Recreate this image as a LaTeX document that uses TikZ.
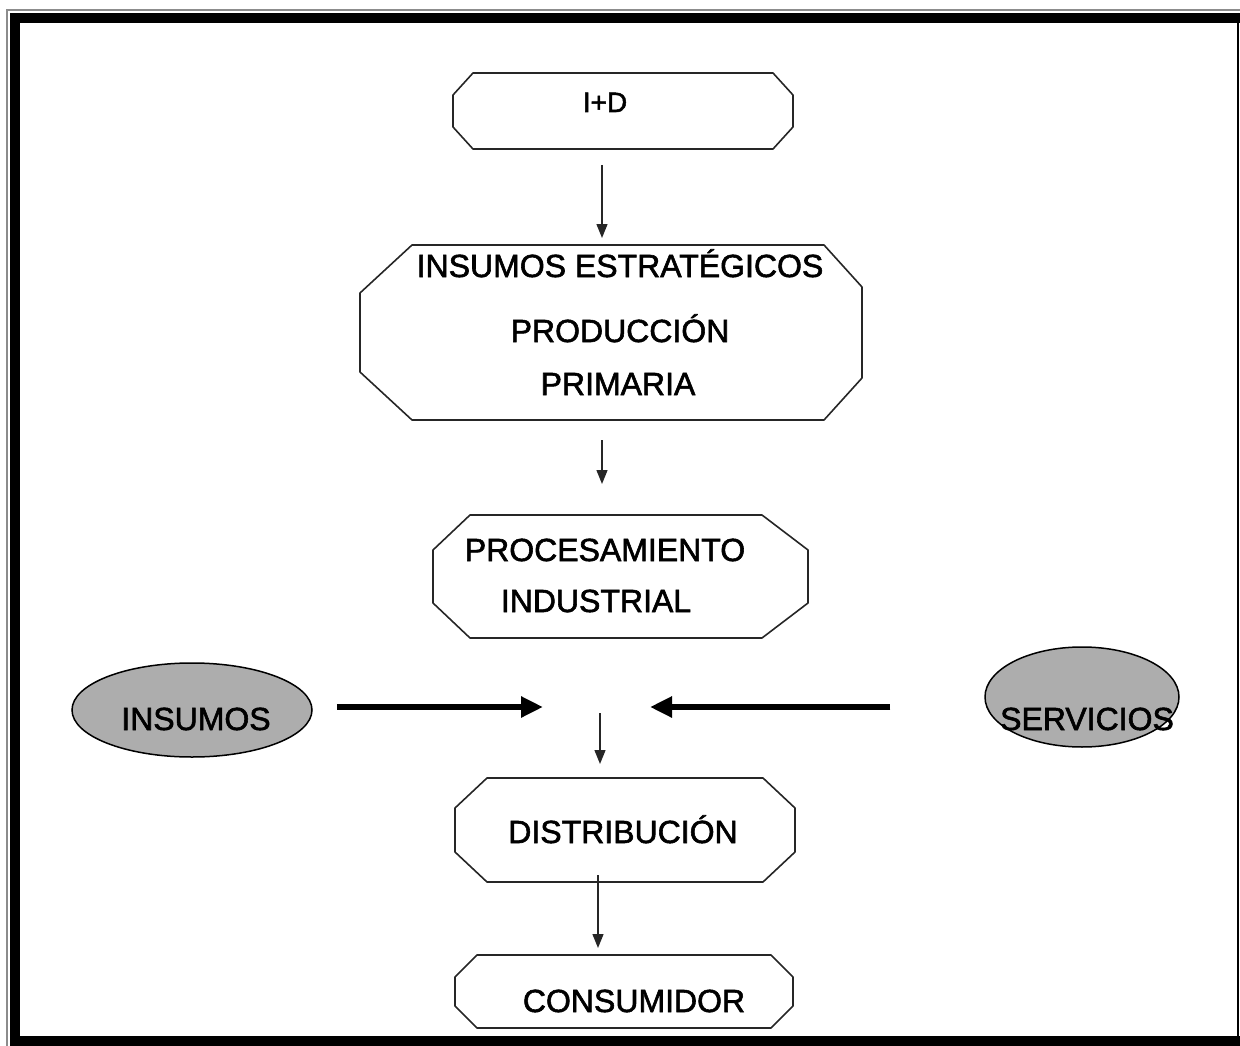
\documentclass[tikz,border=0pt]{standalone}
\usepackage{fontspec}
\setmainfont{Liberation Sans}[BoldFont=Liberation Sans, BoldFeatures={FakeBold=1.8}]
\usetikzlibrary{arrows.meta,shapes.geometric}
% #1 node, #2/#3 left chamfer (h/v), #4/#5 right chamfer (h/v)
\newcommand\chamferbox[5]{\draw[boxline] ([xshift=#2pt]#1.north west) -- ([xshift=-#4pt]#1.north east) -- ([yshift=-#5pt]#1.north east) -- ([yshift=#5pt]#1.south east) -- ([xshift=-#4pt]#1.south east) -- ([xshift=#2pt]#1.south west) -- ([yshift=#3pt]#1.south west) -- ([yshift=-#3pt]#1.north west) -- cycle;}
\begin{document}
\begin{tikzpicture}[x=1pt,y=-1pt,
  boxline/.style={draw=black!85, line width=1.6pt, line join=round},
  boxnode/.style={rectangle, draw=none, inner sep=0pt, outer sep=0pt},
  lbl/.style={font=\fontsize{32}{38}\selectfont\bfseries, inner sep=0pt, anchor=base, text=black},
  thinarrow/.style={draw=black!85, line width=1.4pt, -{Triangle[length=14pt,width=11pt]}},
  thickarrow/.style={draw=black, line width=6pt, -{Triangle[length=22pt,width=20pt]}},
  oval/.style={ellipse, draw=black, line width=1.5pt, fill=black!32, inner sep=0pt}
]
\useasboundingbox (0,0) rectangle (1240,1046);
% frame
\draw[black!45, line width=1.5pt] (7,1046) -- (7,10) -- (1240,10);
\fill[black] (10,13) rectangle (20,1046);
\fill[black] (10,13) rectangle (1240,23);
\fill[black] (10,1036) rectangle (1240,1046);
\draw[black, line width=2pt] (1238,13) -- (1238,1046);

% boxes
\node[boxnode, minimum width=340pt, minimum height=76pt] (id) at (623,111) {};
\node[boxnode, minimum width=502pt, minimum height=175pt] (oct) at (611,332.5) {};
\node[boxnode, minimum width=375pt, minimum height=123pt] (proc) at (620.5,576.5) {};
\node[boxnode, minimum width=340pt, minimum height=104pt] (dist) at (625,830) {};
\node[boxnode, minimum width=338pt, minimum height=73pt] (cons) at (624,991.5) {};
\chamferbox{id}{20}{22}{20}{22}
\chamferbox{oct}{52}{48}{38}{42}
\chamferbox{proc}{37}{35}{46}{35}
\chamferbox{dist}{32}{30}{32}{30}
\chamferbox{cons}{22}{22}{22}{22}

\node[oval, minimum width=240pt, minimum height=94pt] (ins) at (192,710) {};
\node[oval, minimum width=194pt, minimum height=100pt] (serv) at (1082,697) {};

% texts
\node[lbl, font=\fontsize{28}{34}\selectfont\bfseries] (idt) at (605,112) {I+D};
\node[lbl] (octa) at (620,277) {INSUMOS ESTRATÉGICOS};
\node[lbl] (octb) at (620,342) {PRODUCCIÓN};
\node[lbl] (octc) at (618,395) {PRIMARIA};
\node[lbl] (proca) at (605,561) {PROCESAMIENTO};
\node[lbl] (procb) at (596,612) {INDUSTRIAL};
\node[lbl] (distt) at (623,843) {DISTRIBUCIÓN};
\node[lbl] (const) at (634,1012) {CONSUMIDOR};
\node[lbl] (inst) at (196,730) {INSUMOS};
\node[lbl] (servt) at (1087,730) {SERVICIOS};

% connectors
\coordinate (ax1) at (602,0);
\coordinate (ax3) at (600,0);
\coordinate (ax4) at (598,0);
\draw[thinarrow, shorten <=16pt, shorten >=7pt] (id.south -| ax1) -- (oct.north -| ax1);
\draw[thinarrow, shorten <=20pt, shorten >=31pt] (oct.south -| ax1) -- (proc.north -| ax1);
\draw[thinarrow, shorten <=75pt, shorten >=14pt] (proc.south -| ax3) -- (dist.north -| ax3);
\draw[thinarrow, shorten <=-7pt, shorten >=7pt] (dist.south -| ax4) -- (cons.north -| ax4);

\coordinate (jl) at (543,707);
\coordinate (jr) at (650,707);
\draw[thickarrow, shorten <=24pt] (ins.east |- jl) -- (jl);
\draw[thickarrow, shorten <=94pt] (serv.west |- jr) -- (jr);
\end{tikzpicture}
\end{document}
